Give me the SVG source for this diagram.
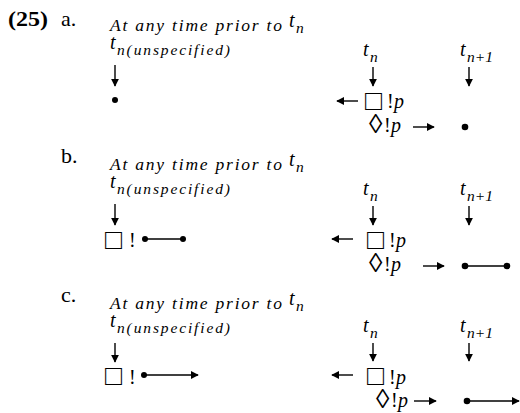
<svg xmlns="http://www.w3.org/2000/svg" width="520" height="413" viewBox="0 0 520 413">
<style>
  text { font-family: "Liberation Serif", "DejaVu Serif", serif; fill: #000; }
  .lab { font-size: 22px; }
  .num { font-size: 22px; font-weight: bold; }
  .it { font-style: italic; font-size: 17.5px; }
  .t { font-style: italic; font-size: 20px; }
  .sub { font-style: italic; font-size: 15.5px; }
  .sym { font-size: 28px; }
  .dia { font-size: 27px; }
  .op { font-size: 20px; }
  .opi { font-size: 20px; font-style: italic; }
  .ln { stroke: #000; stroke-width: 1.4; fill: none; }
  .dot { fill: #000; }
</style>
<defs>
  <marker id="ah" viewBox="0 0 10 10" refX="9" refY="5" markerWidth="8" markerHeight="8" markerUnits="userSpaceOnUse" orient="auto">
    <path d="M0,0 L10,5 L0,10 z" fill="#000"/>
  </marker>
</defs>

<!-- Panel a -->
<g id="panel-a">
  <g id="a-label"><text class="num" x="8" y="26" textLength="40" lengthAdjust="spacingAndGlyphs">(25)</text><text class="lab" x="61" y="26">a.</text></g>
  <g id="a-header"><text class="it" x="110" y="31" textLength="172" lengthAdjust="spacing">At any time prior to</text><text class="t" x="289" y="27">t</text><text class="sub" x="296" y="33">n</text></g>
  <g id="a-tu"><text class="t" x="110" y="49">t</text><text class="sub" x="117" y="55" textLength="113" lengthAdjust="spacing">n(unspecified)</text></g>
  <g id="a-left-point"><circle class="dot" cx="115" cy="100" r="3"/></g>
  <g id="a-tn"><text class="t" x="363" y="56">t</text><text class="sub" x="370" y="62">n</text></g>
  <g id="a-tn1"><text class="t" x="460" y="56">t</text><text class="sub" x="467" y="62">n+1</text></g>
  <g id="a-box"><text class="sym" x="365" y="110">□</text><text class="op" x="387" y="108">!</text><text class="opi" x="394" y="108">p</text></g>
  <g id="a-dia"><text class="dia" x="369" y="133">◊</text><text class="op" x="384" y="132">!</text><text class="opi" x="391" y="132">p</text></g>
  <g id="a-right-point"><circle class="dot" cx="465" cy="127" r="3.3"/></g>
</g>

<!-- Panel b -->
<g id="panel-b">
  <g id="b-label"><text class="lab" x="61" y="163">b.</text></g>
  <g id="b-header"><text class="it" x="110" y="170" textLength="172" lengthAdjust="spacing">At any time prior to</text><text class="t" x="289" y="166">t</text><text class="sub" x="296" y="172">n</text></g>
  <g id="b-tu"><text class="t" x="110" y="188">t</text><text class="sub" x="117" y="194" textLength="113" lengthAdjust="spacing">n(unspecified)</text></g>
  <g id="b-left"><text class="sym" x="105" y="249">□</text><text class="op" x="129" y="247">!</text><circle class="dot" cx="145" cy="239" r="3"/><circle class="dot" cx="183" cy="239" r="3"/></g>
  <g id="b-tn"><text class="t" x="363" y="195">t</text><text class="sub" x="370" y="201">n</text></g>
  <g id="b-tn1"><text class="t" x="460" y="195">t</text><text class="sub" x="467" y="201">n+1</text></g>
  <g id="b-box"><text class="sym" x="367" y="249">□</text><text class="op" x="389" y="247">!</text><text class="opi" x="396" y="247">p</text></g>
  <g id="b-dia"><text class="dia" x="369" y="272">◊</text><text class="op" x="384" y="271">!</text><text class="opi" x="391" y="271">p</text></g>
  <g id="b-right"><circle class="dot" cx="465" cy="266" r="3.3"/><circle class="dot" cx="507" cy="266" r="3.3"/></g>
</g>

<!-- Panel c -->
<g id="panel-c">
  <g id="c-label"><text class="lab" x="61" y="302">c.</text></g>
  <g id="c-header"><text class="it" x="110" y="309" textLength="172" lengthAdjust="spacing">At any time prior to</text><text class="t" x="289" y="305">t</text><text class="sub" x="296" y="311">n</text></g>
  <g id="c-tu"><text class="t" x="110" y="327">t</text><text class="sub" x="117" y="333" textLength="113" lengthAdjust="spacing">n(unspecified)</text></g>
  <g id="c-left"><text class="sym" x="105" y="385">□</text><text class="op" x="129" y="384">!</text><circle class="dot" cx="144" cy="375" r="3"/></g>
  <g id="c-tn"><text class="t" x="363" y="332">t</text><text class="sub" x="370" y="338">n</text></g>
  <g id="c-tn1"><text class="t" x="460" y="332">t</text><text class="sub" x="467" y="338">n+1</text></g>
  <g id="c-box"><text class="sym" x="367" y="385">□</text><text class="op" x="389" y="384">!</text><text class="opi" x="396" y="384">p</text></g>
  <g id="c-dia"><text class="dia" x="376" y="408">◊</text><text class="op" x="391" y="407">!</text><text class="opi" x="398" y="407">p</text></g>
  <g id="c-right"><circle class="dot" cx="467" cy="401" r="3.3"/></g>
</g>

<g id="connectors">
  <!-- panel a -->
  <line class="ln" x1="115" y1="65" x2="115" y2="86" marker-end="url(#ah)"/>
  <line class="ln" x1="373" y1="67" x2="373" y2="86" marker-end="url(#ah)"/>
  <line class="ln" x1="469" y1="67" x2="469" y2="86" marker-end="url(#ah)"/>
  <line class="ln" x1="358" y1="101" x2="337" y2="101" marker-end="url(#ah)"/>
  <line class="ln" x1="413" y1="127" x2="434" y2="127" marker-end="url(#ah)"/>
  <!-- panel b -->
  <line class="ln" x1="115" y1="204" x2="115" y2="225" marker-end="url(#ah)"/>
  <line class="ln" x1="373" y1="206" x2="373" y2="225" marker-end="url(#ah)"/>
  <line class="ln" x1="469" y1="206" x2="469" y2="225" marker-end="url(#ah)"/>
  <line class="ln" x1="353" y1="239" x2="332" y2="239" marker-end="url(#ah)"/>
  <line class="ln" x1="423" y1="266" x2="444" y2="266" marker-end="url(#ah)"/>
  <line class="ln" x1="145" y1="239" x2="183" y2="239"/>
  <line class="ln" x1="465" y1="266" x2="507" y2="266"/>
  <!-- panel c -->
  <line class="ln" x1="115" y1="343" x2="115" y2="362" marker-end="url(#ah)"/>
  <line class="ln" x1="373" y1="343" x2="373" y2="361" marker-end="url(#ah)"/>
  <line class="ln" x1="469" y1="343" x2="469" y2="361" marker-end="url(#ah)"/>
  <line class="ln" x1="353" y1="375" x2="332" y2="375" marker-end="url(#ah)"/>
  <line class="ln" x1="414" y1="401" x2="436" y2="401" marker-end="url(#ah)"/>
  <line class="ln" x1="144" y1="375" x2="198" y2="375" marker-end="url(#ah)"/>
  <line class="ln" x1="467" y1="401" x2="519" y2="401" marker-end="url(#ah)"/>
</g>
</svg>
